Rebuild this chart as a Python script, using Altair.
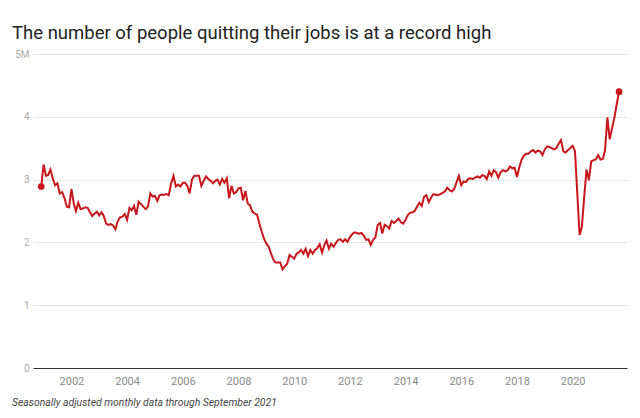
import altair as alt
import pandas as pd

# Quits, total nonfarm, millions, seasonally adjusted
start_month = "2000-12-01"
q2000 = [2.89]
q2001 = [3.24, 3.06, 3.07, 3.16, 3.02, 2.91, 2.94, 2.78, 2.80, 2.71, 2.57, 2.56]
q2002 = [2.85, 2.62, 2.50, 2.63, 2.53, 2.54, 2.56, 2.55, 2.48, 2.42, 2.46, 2.49]
q2003 = [2.43, 2.48, 2.42, 2.30, 2.28, 2.29, 2.27, 2.21, 2.34, 2.40, 2.41, 2.45]
q2004 = [2.36, 2.55, 2.51, 2.58, 2.44, 2.65, 2.61, 2.57, 2.53, 2.57, 2.78, 2.73]
q2005 = [2.74, 2.66, 2.75, 2.76, 2.76, 2.77, 2.75, 2.94, 3.06, 2.89, 2.92, 2.89]
q2006 = [2.95, 2.95, 2.90, 2.78, 3.00, 3.06, 3.06, 3.06, 2.90, 2.98, 3.05, 3.01]
q2007 = [2.98, 2.94, 2.98, 3.00, 2.92, 3.01, 2.95, 3.02, 2.70, 2.90, 2.78, 2.80]
q2008 = [2.86, 2.87, 2.67, 2.82, 2.62, 2.59, 2.49, 2.46, 2.44, 2.30, 2.17, 2.06]
q2009 = [1.98, 1.93, 1.83, 1.73, 1.68, 1.68, 1.68, 1.57, 1.62, 1.66, 1.80, 1.77]
q2010 = [1.74, 1.82, 1.84, 1.88, 1.82, 1.90, 1.78, 1.88, 1.82, 1.88, 1.91, 1.97]
q2011 = [1.84, 1.96, 2.03, 1.90, 1.98, 1.93, 1.99, 2.04, 2.05, 2.01, 2.05, 2.01]
q2012 = [2.08, 2.13, 2.16, 2.15, 2.14, 2.15, 2.11, 2.04, 2.05, 1.96, 2.04, 2.08]
q2013 = [2.28, 2.31, 2.14, 2.28, 2.26, 2.22, 2.34, 2.31, 2.34, 2.38, 2.32, 2.30]
q2014 = [2.36, 2.44, 2.47, 2.48, 2.50, 2.57, 2.63, 2.58, 2.73, 2.75, 2.64, 2.71]
q2015 = [2.77, 2.76, 2.75, 2.77, 2.79, 2.81, 2.87, 2.83, 2.81, 2.85, 2.96, 3.06]
q2016 = [2.91, 2.97, 2.96, 3.01, 3.02, 3.01, 3.03, 3.05, 3.03, 3.07, 3.06, 3.01]
q2017 = [3.13, 3.06, 3.15, 3.12, 3.03, 3.12, 3.15, 3.13, 3.15, 3.21, 3.18, 3.19]
q2018 = [3.04, 3.20, 3.31, 3.38, 3.41, 3.41, 3.45, 3.47, 3.43, 3.46, 3.45, 3.39]
q2019 = [3.48, 3.53, 3.52, 3.50, 3.48, 3.50, 3.57, 3.63, 3.45, 3.43, 3.47, 3.50]
q2020 = [3.54, 3.45, 2.80, 2.12, 2.25, 2.73, 3.16, 2.99, 3.29, 3.31, 3.32, 3.39]
q2021 = [3.32, 3.33, 3.47, 3.99, 3.64, 3.82, 3.98, 4.20, 4.40]

y_ticks = [0, 1, 2, 3, 4, 5]
x_tick_years = list(range(2002, 2021, 2))

title_text = "The number of people quitting their jobs is at a record high"
note_text = "Seasonally adjusted monthly data through September 2021"

values = (q2000 + q2001 + q2002 + q2003 + q2004 + q2005 + q2006 + q2007 + q2008
          + q2009 + q2010 + q2011 + q2012 + q2013 + q2014 + q2015 + q2016 + q2017
          + q2018 + q2019 + q2020 + q2021)
dates = pd.date_range(start_month, periods=len(values), freq="MS").strftime("%Y-%m-%d")
df = pd.DataFrame({"date": list(dates), "quits": values})
ends = df.iloc[[0, len(df) - 1]]

RED = "#c8161d"

x_enc = alt.X(
    "date:T",
    scale=alt.Scale(domain=["2000-08-15", "2021-12-14"]),
    axis=alt.Axis(
        title=None,
        values=[alt.DateTime(year=y, month=1, date=1) for y in x_tick_years],
        format="%Y",
        grid=False,
        ticks=False,
        domain=True,
        domainColor="#333333",
        domainWidth=1,
        labelColor="#8a8a8a",
        labelFontSize=11,
        labelFont="Roboto",
        labelPadding=7,
    ),
)
y_enc = alt.Y(
    "quits:Q",
    scale=alt.Scale(domain=[0, 5], nice=False, zero=True),
    axis=alt.Axis(
        title=None,
        values=y_ticks,
        format="d",
        labelExpr="datum.value == 5 ? '5M' : datum.label",
        grid=True,
        gridColor="#e6e6e6",
        gridWidth=1,
        ticks=False,
        domain=False,
        labelColor="#aaaaaa",
        labelFontSize=10,
        labelFont="Roboto",
        labelPadding=4,
    ),
)

line = alt.Chart(df).mark_line(color=RED, strokeWidth=2, interpolate="linear").encode(
    x=x_enc, y=y_enc
)
dots = alt.Chart(ends).mark_circle(color=RED, size=45, opacity=1).encode(
    x="date:T", y="quits:Q"
)
title = alt.Chart(pd.DataFrame({"t": [title_text]})).mark_text(
    align="left", baseline="alphabetic", font="Roboto", fontSize=18.5, color="#222222"
).encode(text="t:N", x=alt.value(-21), y=alt.value(-15))
note = alt.Chart(pd.DataFrame({"t": [note_text]})).mark_text(
    align="left", baseline="alphabetic", font="Roboto", fontSize=10.4,
    fontStyle="italic", color="#444444"
).encode(text="t:N", x=alt.value(-21), y=alt.value(352))

chart = alt.layer(line, dots, title, note).properties(
    width=594,
    height=314,
    autosize=alt.AutoSizeParams(type="none"),
    padding={"left": 25, "top": 46, "right": 5, "bottom": 42},
    background="white",
).configure_view(stroke=None)

chart.save("out.html", embed_options={"renderer": "svg", "actions": False})
